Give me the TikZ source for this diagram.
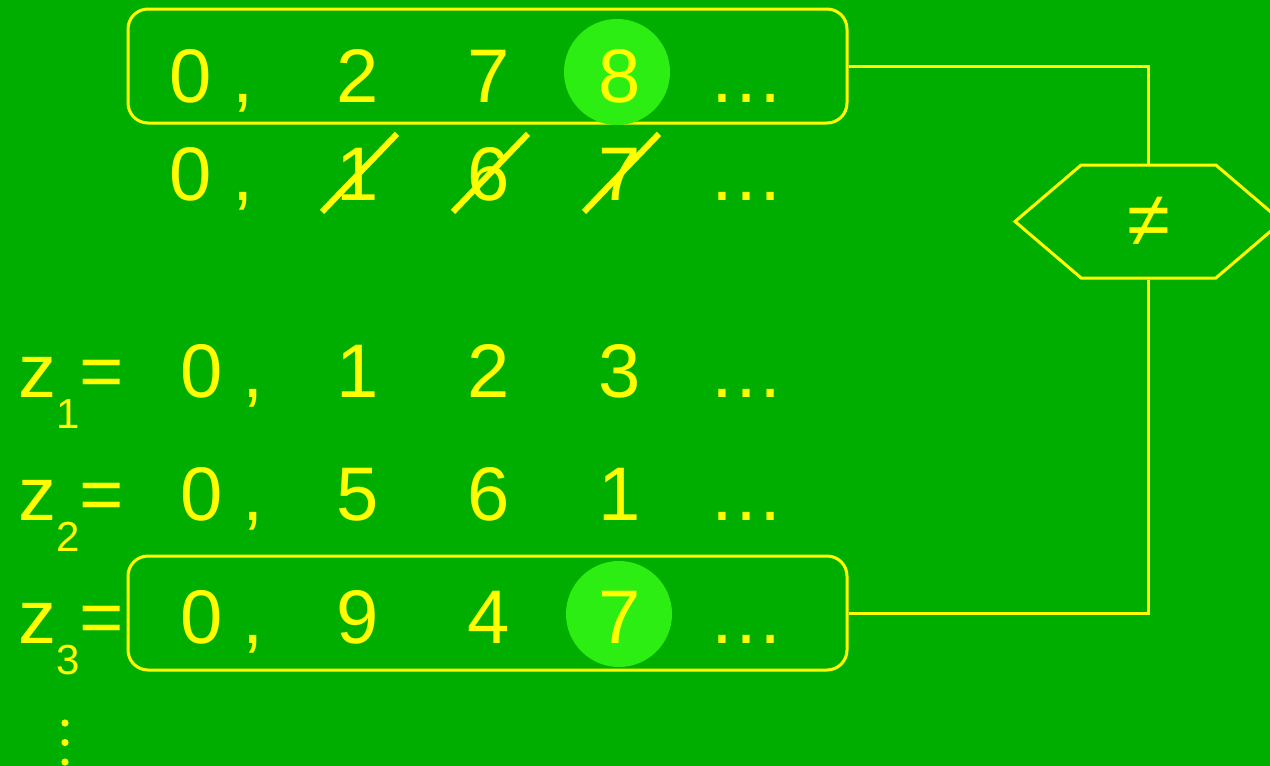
\documentclass[tikz,border=0pt]{standalone}
\usepackage{fontspec}
\setmainfont{Liberation Sans}
\usetikzlibrary{positioning,shapes.symbols}
\definecolor{bggreen}{RGB}{0,174,0}
\definecolor{hitgreen}{RGB}{44,238,18}
\definecolor{seqyellow}{RGB}{255,255,0}
\newcommand{\subfont}{\fontsize{42}{42}\selectfont}
\tikzset{
  num/.style={anchor=base,inner sep=0pt,text=seqyellow,font=\fontsize{76}{76}\selectfont},
  seqbox/.style={draw=seqyellow,line width=3pt,rounded corners=20pt,minimum width=719pt,
                 minimum height=114pt,inner sep=0pt},
  hit/.style={circle,fill=hitgreen,minimum size=106pt,inner sep=0pt},
  strike/.style={seqyellow,line width=6pt},
  wire/.style={seqyellow,line width=3pt},
  cmp/.style={draw=seqyellow,line width=3pt,shape=signal,signal to=west and east,
              signal pointer angle=81,minimum width=267pt,minimum height=113pt,inner sep=0pt,
              text=seqyellow,font=\fontsize{78}{78}\selectfont}
}

\begin{document}
\begin{tikzpicture}[x=1pt,y=-1pt]
\useasboundingbox (0,0) rectangle (1270,766);
\fill[bggreen] (0,0) rectangle (1270,766);

% the two sequences that get compared
\node[seqbox] (topbox) at (487.5,66) {};
\node[seqbox] (botbox) at (487.5,613) {};
\node[hit] (hitA) at (617,72) {};
\node[hit] (hitB) at (619,614) {};

% top rows
\foreach \x/\t [count=\i] in {191/0,243/{,},358/2,489/7,620/8,746/…}
  \node[num] (s\i) at (\x,102) {\t};
\foreach \x/\t [count=\i] in {191/0,243/{,},358/1,489/6,620/7,746/…}
  \node[num] (t\i) at (\x,200) {\t};
\foreach \i in {3,4,5}
  \draw[strike] ([shift={(-36,38)}]t\i.center) -- ([shift={(39,-40)}]t\i.center);

% z rows
\foreach \r/\y/\p/\q/\s in {1/397/1/2/3,2/520/5/6/1,3/643/9/4/7}{
  \node[num,anchor=base west] (z\r) at (18,\y) {z\raisebox{-31pt}{\subfont\r}=};
  \foreach \x/\t [count=\i] in {202/0,253/{,},358/\p,489/\q,620/\s,746/…}
    \node[num] (z\r-\i) at (\x,\y) {\t};
}
\foreach \y in {723,742.5,762}
  \fill[seqyellow] (65,\y) circle (3.6pt);

% comparison
\node[cmp] (neq) at (1148.5,221.5) {\raisebox{-4pt}{≠}};
\draw[wire] (topbox.east) -| (neq.north);
\draw[wire] (neq.south) |- (botbox.east);
\end{tikzpicture}
\end{document}
